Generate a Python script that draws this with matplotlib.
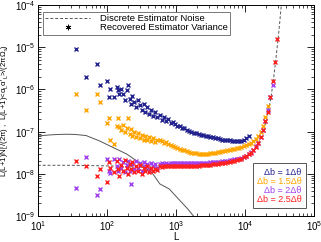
import matplotlib
matplotlib.use("Agg")
import matplotlib.pyplot as plt
from matplotlib.offsetbox import TextArea, VPacker, AnchoredOffsetbox

plt.rcParams['font.family'] = ['Liberation Sans', 'DejaVu Sans']
plt.rcParams['mathtext.fontset'] = 'custom'
plt.rcParams['mathtext.rm'] = 'Liberation Sans'
plt.rcParams['mathtext.it'] = 'Liberation Sans:italic'
plt.rcParams['mathtext.default'] = 'regular'

# multipoles of the recovered bins
L_lo = [35.5, 50.2, 71.0, 79.4, 100.4, 106.5, 112.3, 128.0, 142.0, 146.4, 150.6, 159.0,
        173.9, 181.0, 194.4, 201.0, 213.0, 220, 234, 251, 262, 284, 300, 320, 340, 362,
        384, 410, 440, 470, 500, 540]
L_hi = [580, 620, 670, 720, 780, 840, 900, 970, 1050, 1130, 1220, 1320, 1430, 1550, 1680,
        1820, 1970, 2130, 2310, 2500, 2700, 2930, 3170, 3430, 3720, 4030, 4360, 4720, 5110,
        5530, 5990, 6490, 7030, 7610, 8240, 8920, 9660, 10460, 11330, 12270, 13290, 14390,
        15580, 16870, 18270, 19780, 21420, 23190, 25110, 27190, 29450, 31890]
L_all = L_lo + L_hi

var_1 = [9.0e-6, 2.0e-6, 4.0e-6, 1.3e-6, 1.6e-6, 6.5e-7, 1.0e-6, 6.8e-7, 1.15e-6, 9.5e-7,
         8.0e-7, 1.0e-6, 8.0e-7, 5.5e-7, 9.5e-7, 1.25e-6, 6.0e-7, 4.5e-7, 7.0e-7, 5.0e-7,
         3.8e-7, 5.5e-7, 4.2e-7, 3.3e-7, 4.5e-7, 3.0e-7, 3.8e-7, 2.6e-7, 3.2e-7, 2.4e-7,
         2.9e-7, 2.2e-7,
         2.5e-7, 1.9e-7, 2.2e-7, 1.8e-7, 2.0e-7, 1.6e-7, 1.7e-7, 1.5e-7, 1.4e-7, 1.35e-7,
         1.25e-7, 1.2e-7, 1.1e-7, 1.05e-7, 1.0e-7, 9.5e-8, 9.2e-8, 8.8e-8, 8.5e-8, 8.2e-8,
         8.0e-8, 7.7e-8, 7.5e-8, 7.3e-8, 7.1e-8, 6.9e-8, 6.7e-8, 6.5e-8, 6.4e-8, 6.3e-8,
         6.2e-8, 6.1e-8, 6.0e-8, 6.0e-8, 6.0e-8, 6.1e-8, 6.4e-8, 7.0e-8, 8.0e-8]

var_15 = [8.0e-7, 3.2e-7, 8.0e-7, 5.0e-7, 1.6e-7, 2.1e-7, 6.5e-8, 5.0e-8, 1.4e-7, 2.1e-7,
          1.3e-7, 1.1e-7, 1.45e-7, 1.0e-7, 1.2e-7, 2.1e-7, 9.0e-8, 1.15e-7, 8.0e-8, 1.0e-7,
          7.5e-8, 9.5e-8, 7.0e-8, 8.5e-8, 6.5e-8, 8.0e-8, 6.2e-8, 7.5e-8, 6.0e-8, 7.0e-8,
          5.8e-8, 6.5e-8,
          6.5e-8, 6.0e-8, 5.5e-8, 5.6e-8, 5.0e-8, 4.8e-8, 4.5e-8, 4.3e-8, 4.1e-8, 3.9e-8,
          3.7e-8, 3.6e-8, 3.4e-8, 3.3e-8, 3.2e-8, 3.1e-8, 3.05e-8, 3.0e-8, 3.0e-8, 3.0e-8,
          3.0e-8, 3.0e-8, 3.05e-8, 3.1e-8, 3.2e-8, 3.25e-8, 3.3e-8, 3.4e-8, 3.5e-8, 3.6e-8,
          3.7e-8, 3.8e-8, 3.9e-8, 4.0e-8, 4.1e-8, 4.3e-8, 4.5e-8, 4.8e-8, 5.1e-8, 5.5e-8,
          6.0e-8, 6.8e-8, 8.0e-8, 1.0e-7, 1.4e-7, 2.2e-7, 4.0e-7]

var_2 = [4.6e-9, 2.5e-8, 3.2e-9, 4.4e-9, 2.3e-8, 1.2e-8, 1.05e-8, 2.2e-8, 1.5e-8, 1.2e-8,
         2.2e-8, 1.4e-8, 1.9e-8, 1.1e-8, 1.6e-8, 2.0e-8, 1.2e-8, 5.7e-9, 1.7e-8, 1.3e-8,
         2.0e-8, 1.4e-8, 1.8e-8, 1.2e-8, 1.9e-8, 1.5e-8, 1.7e-8, 1.3e-8, 1.8e-8, 1.5e-8,
         1.7e-8, 1.4e-8,
         1.7e-8, 1.8e-8, 1.75e-8, 1.8e-8, 1.75e-8, 1.8e-8, 1.8e-8, 1.8e-8, 1.8e-8, 1.8e-8,
         1.8e-8, 1.8e-8, 1.8e-8, 1.8e-8, 1.8e-8, 1.8e-8, 1.8e-8, 1.8e-8, 1.8e-8, 1.85e-8,
         1.85e-8, 1.85e-8, 1.9e-8, 1.9e-8, 1.9e-8, 1.95e-8, 1.95e-8, 2.0e-8, 2.0e-8, 2.05e-8,
         2.1e-8, 2.15e-8, 2.2e-8, 2.25e-8, 2.3e-8, 2.4e-8, 2.55e-8, 2.7e-8, 3.0e-8, 3.3e-8,
         3.7e-8, 4.5e-8, 5.5e-8, 7.5e-8, 1.1e-7, 1.8e-7, 3.2e-7, 6.5e-7, 1.3e-6]

var_25 = [2.0e-8, 1.55e-8, 8.9e-9, 1.3e-8, 6.5e-9, 1.9e-8, 1.4e-8, 1.1e-8, 2.0e-8, 1.3e-8,
          9.0e-9, 1.6e-8, 1.2e-8, 2.1e-8, 1.4e-8, 1.0e-8, 1.7e-8, 1.3e-8, 1.9e-8, 1.1e-8,
          1.5e-8, 1.2e-8, 1.6e-8, 1.0e-8, 1.4e-8, 1.2e-8, 1.5e-8, 1.1e-8, 1.4e-8, 1.2e-8,
          1.3e-8, 1.25e-8,
          1.5e-8, 1.45e-8, 1.5e-8, 1.5e-8, 1.5e-8, 1.5e-8, 1.5e-8, 1.5e-8, 1.5e-8, 1.5e-8,
          1.5e-8, 1.5e-8, 1.5e-8, 1.5e-8, 1.5e-8, 1.55e-8, 1.55e-8, 1.55e-8, 1.6e-8, 1.6e-8,
          1.6e-8, 1.65e-8, 1.65e-8, 1.7e-8, 1.7e-8, 1.75e-8, 1.8e-8, 1.8e-8, 1.85e-8, 1.9e-8,
          1.95e-8, 2.0e-8, 2.05e-8, 2.1e-8, 2.2e-8, 2.3e-8, 2.45e-8, 2.6e-8, 2.9e-8, 3.2e-8,
          3.6e-8, 4.4e-8, 5.5e-8, 7.5e-8, 1.1e-7, 1.8e-7, 3.0e-7, 6.5e-7, 1.6e-6, 4.5e-6,
          1.6e-5]

# discrete estimator noise (dashed) and signal curve (solid)
L_noise = [10, 30, 100, 300, 1000, 2000, 4000, 6000, 8000, 10000, 12000, 14000, 16000,
           18000, 20000, 22000, 24000, 26000, 28000, 30000, 32000, 34000, 36000]
noise = [1.6e-8, 1.6e-8, 1.55e-8, 1.45e-8, 1.45e-8, 1.5e-8, 1.6e-8, 1.75e-8, 2.0e-8, 2.4e-8,
         3.0e-8, 4.0e-8, 5.8e-8, 9.0e-8, 1.6e-7, 3.2e-7, 7.0e-7, 1.8e-6, 5.0e-6, 1.4e-5,
         4.0e-5, 1.2e-4, 4.0e-4]
L_sig = [10, 15, 20, 26, 35, 50, 79, 120, 194, 300, 464, 584, 800, 1100, 1500, 1800, 2200]
signal = [7.9e-8, 8.4e-8, 8.6e-8, 8.7e-8, 8.6e-8, 8.1e-8, 6.0e-8, 4.3e-8, 2.95e-8, 1.8e-8,
          1.0e-8, 5.8e-9, 4.4e-9, 2.5e-9, 1.45e-9, 1.0e-9, 6.8e-10]

series = [
    (var_1, '#23238f', 'Δb = 1Δθ'),
    (var_15, '#ffa500', 'Δb = 1.5Δθ'),
    (var_2, '#a040f0', 'Δb = 2Δθ'),
    (var_25, '#ff2020', 'Δb = 2.5Δθ'),
]

fig = plt.figure(figsize=(3.21, 2.42), dpi=100)
ax = fig.add_axes([0.118, 0.107, 0.860, 0.872])

ax.plot(L_sig, signal, '-', color='#555555', lw=0.7)
noise_line, = ax.plot(L_noise, noise, '--', color='#555555', lw=0.7, dashes=(3, 2))

for vals, col, lab in series:
    ax.plot(L_all[:len(vals)], vals, 'x', color=col, ms=2.8, mew=1.0, ls='none')

ax.set_xscale('log')
ax.set_yscale('log')
ax.set_xlim(10, 1e5)
ax.set_ylim(1e-9, 1e-4)
ax.set_xlabel('L', fontsize=7, labelpad=-1)
ax.set_ylabel(r"L(L+1)N$^{\epsilon}_{L}$/(2π) ,  L(L+1)<α$_{L}$α$'_{L}$>/(2πΩ$_{s}$)",
              fontsize=5.6, labelpad=2)
ax.tick_params(which='both', direction='in', top=True, right=True, labelsize=7)
ax.tick_params(axis='x', pad=2.5)
ax.tick_params(axis='y', pad=2)
ax.tick_params(which='major', length=5, width=0.6)
ax.tick_params(which='minor', length=2.5, width=0.5)
for s in ax.spines.values():
    s.set_linewidth(0.7)
for t in ax.get_yticklabels():
    t.set_verticalalignment('center_baseline')

marker_h, = ax.plot([], [], ls='none', marker=(6, 2, 0), color='black', ms=4, mew=0.6)
leg = ax.legend([noise_line, marker_h],
                ['Discrete Estimator Noise', 'Recovered Estimator Variance'],
                loc='upper left', bbox_to_anchor=(0.0, 0.99), fontsize=6.8, frameon=True,
                fancybox=False, edgecolor='#555555', handlelength=4.8, handletextpad=1.0,
                borderpad=0.25, labelspacing=0.0, borderaxespad=0.5)
leg.get_frame().set_linewidth(0.7)

boxes = [TextArea(lab, textprops=dict(color=col, fontsize=6.5)) for _, col, lab in series]
vp = VPacker(children=boxes, align='right', pad=0, sep=0)
anch = AnchoredOffsetbox(loc='lower right', child=vp, pad=0.3, borderpad=0.6, frameon=True,
                         bbox_to_anchor=(1.0, 0.0), bbox_transform=ax.transAxes)
anch.patch.set_edgecolor('#555555')
anch.patch.set_linewidth(0.7)
ax.add_artist(anch)

fig.savefig('out.png', dpi=100)
